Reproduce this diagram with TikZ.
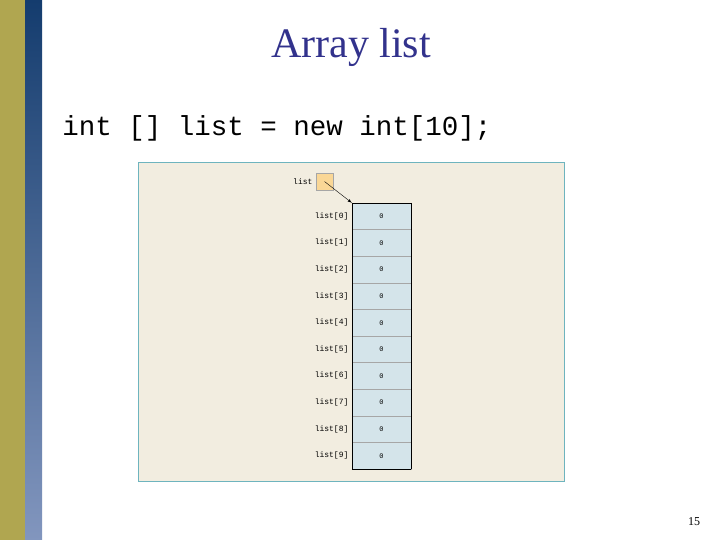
\documentclass[tikz,border=0pt]{standalone}
\usepackage{fontspec}
\setmainfont{Liberation Serif}
\setmonofont{Liberation Mono}
\usetikzlibrary{positioning}
\definecolor{olivebar}{RGB}{176,166,80}
\definecolor{bluetop}{RGB}{20,60,110}
\definecolor{bluebot}{RGB}{130,150,190}
\definecolor{titleblue}{RGB}{50,50,140}
\definecolor{panel}{RGB}{242,237,224}
\definecolor{panelrule}{RGB}{110,180,190}
\definecolor{cellfill}{RGB}{212,228,234}
\definecolor{reffill}{RGB}{250,215,150}
\begin{document}
\begin{tikzpicture}[x=1pt,y=-1pt,thick,
    cell/.style={draw=gray!70,thin,fill=cellfill,minimum width=59pt,minimum height=26.6pt,inner sep=0pt,font=\ttfamily\fontsize{7}{7}\selectfont},
    idx/.style={left=3pt,inner sep=0pt,font=\ttfamily\fontsize{8}{8}\selectfont}]
    \useasboundingbox (0,0) rectangle (720,540);
    \fill[olivebar] (0,0) rectangle (25,540);
    \shade[top color=bluetop,bottom color=bluebot] (25,0) rectangle (42,540);
    \node[text=titleblue,font=\fontsize{42}{42}\selectfont] (title) at (351,47) {Array list};
    \node[anchor=west,inner sep=0pt,font=\ttfamily\fontsize{27.5}{27.5}\selectfont] (code) at (62,128) {int [] list = new int[10];};
    \draw[panelrule,fill=panel,thin] (138,162) rectangle (564,481);

    \node[draw=gray!70,thin,fill=reffill,minimum size=17pt,inner sep=0pt] (ref) at (324.5,181.5) {};
    \node[left=3pt of ref,inner sep=0pt,font=\ttfamily\fontsize{8}{8}\selectfont] (reflabel) {list};

    \foreach \i in {0,...,9} {
        \node[cell] (c\i) at (381.5,{216.3+26.6*\i}) {0};
        \node[idx] (l\i) at (c\i.west) {list[\i]};
    }
    \draw[thin,black] (c0.north west) -- (c0.north east) (c9.south west) -- (c9.south east)
        (c0.north west) -- (c9.south west) (c0.north east) -- (c9.south east);
    \draw[->,thin,>=latex] (ref.center) -- (c0.north west);
    \node[font=\fontsize{12}{12}\selectfont] (page) at (694,522) {15};
\end{tikzpicture}
\end{document}
